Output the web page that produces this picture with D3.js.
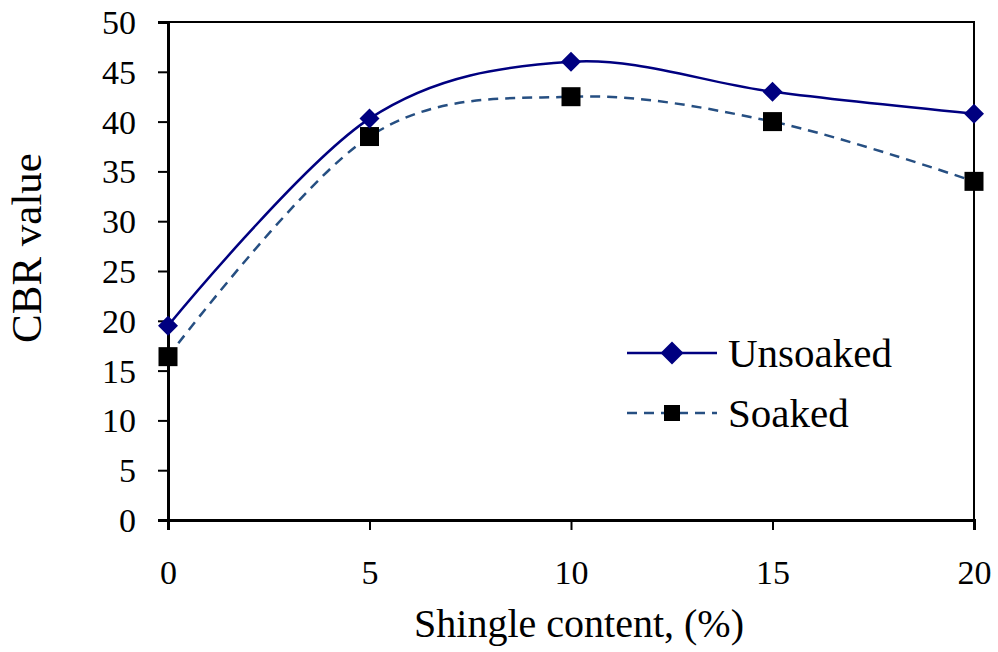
<!DOCTYPE html>
<html>
<head>
<meta charset="utf-8">
<script src="https://cdn.jsdelivr.net/npm/d3@7"></script>
<style>
  html, body { margin: 0; padding: 0; background: #fff; }
  svg text { font-family: "Liberation Serif", "Times New Roman", serif; fill: #000; }
</style>
</head>
<body>
<svg id="chart" width="998" height="652"></svg>
<script>
// Shingle content (%) on the x axis
const shingle = [0, 5, 10, 15, 20];
// CBR values for each condition
const unsoaked = [19.5, 40.3, 46.0, 43.0, 40.8];
const soaked = [16.4, 38.5, 42.5, 40.0, 34.0];
const xTicks = [0, 5, 10, 15, 20];
const yTicks = [0, 5, 10, 15, 20, 25, 30, 35, 40, 45, 50];

const svg = d3.select("#chart");
const m = { left: 168, right: 974, top: 22, bottom: 520 };

const x = d3.scaleLinear().domain([0, 20]).range([m.left, m.right]);
const y = d3.scaleLinear().domain([0, 50]).range([m.bottom, m.top]);

// plot frame
svg.append("rect")
  .attr("x", m.left).attr("y", m.top)
  .attr("width", m.right - m.left).attr("height", m.bottom - m.top)
  .attr("fill", "none").attr("stroke", "#000").attr("stroke-width", 2);

// y axis
const yAxis = svg.append("g")
  .attr("transform", `translate(${m.left},0)`)
  .call(d3.axisLeft(y).tickValues(yTicks).tickSize(10).tickPadding(22));
yAxis.select(".domain").attr("stroke-width", 3);
yAxis.selectAll(".tick line").attr("stroke-width", 2);
yAxis.selectAll(".tick text")
  .style("font-size", "34px").attr("font-family", null).attr("dy", "0.34em");

// x axis
const xAxis = svg.append("g")
  .attr("transform", `translate(0,${m.bottom})`)
  .call(d3.axisBottom(x).tickValues(xTicks).tickSize(10).tickPadding(30));
xAxis.select(".domain").attr("stroke-width", 3);
xAxis.selectAll(".tick line").attr("stroke-width", 2);
xAxis.selectAll(".tick text")
  .style("font-size", "34px").attr("font-family", null);

// axis titles
svg.append("text")
  .attr("transform", "translate(41,248) rotate(-90)")
  .attr("text-anchor", "middle")
  .style("font-size", "43px")
  .text("CBR value");

svg.append("text")
  .attr("x", 579)
  .attr("y", 637)
  .attr("text-anchor", "middle")
  .style("font-size", "40px")
  .text("Shingle content, (%)");

const line = d3.line()
  .x((d, i) => x(shingle[i]))
  .y(d => y(d))
  .curve(d3.curveCatmullRom.alpha(0));

// soaked series
svg.append("path")
  .datum(soaked)
  .attr("d", line)
  .attr("fill", "none")
  .attr("stroke", "#264f82")
  .attr("stroke-width", 2.5)
  .attr("stroke-dasharray", "10,7");

// unsoaked series
svg.append("path")
  .datum(unsoaked)
  .attr("d", line)
  .attr("fill", "none")
  .attr("stroke", "#000080")
  .attr("stroke-width", 2.5);

// marker shapes: rotated square (diamond) and square
const diamondPath = r => `M0,${-r}L${r},0L0,${r}L${-r},0Z`;
const squarePath = h => `M${-h},${-h}H${h}V${h}H${-h}Z`;

svg.append("g").selectAll("path")
  .data(soaked)
  .join("path")
  .attr("transform", (d, i) => `translate(${x(shingle[i])},${y(d)})`)
  .attr("d", squarePath(9.5))
  .attr("fill", "#000");

svg.append("g").selectAll("path")
  .data(unsoaked)
  .join("path")
  .attr("transform", (d, i) => `translate(${x(shingle[i])},${y(d)})`)
  .attr("d", diamondPath(10))
  .attr("fill", "#000080");

// legend
const legend = svg.append("g");
const items = [
  { name: "Unsoaked", color: "#000080", dash: null, d: diamondPath(11.5), fill: "#000080", yy: 353 },
  { name: "Soaked", color: "#264f82", dash: "10,7", d: squarePath(8), fill: "#000", yy: 413 }
];
items.forEach(it => {
  legend.append("line")
    .attr("x1", 627).attr("x2", 717)
    .attr("y1", it.yy).attr("y2", it.yy)
    .attr("stroke", it.color).attr("stroke-width", 2.5)
    .attr("stroke-dasharray", it.dash);
  legend.append("path")
    .attr("transform", `translate(672,${it.yy})`)
    .attr("d", it.d)
    .attr("fill", it.fill);
  legend.append("text")
    .attr("x", 728).attr("y", it.yy)
    .attr("dy", "0.35em")
    .style("font-size", "41px")
    .text(it.name);
});
</script>
</body>
</html>
